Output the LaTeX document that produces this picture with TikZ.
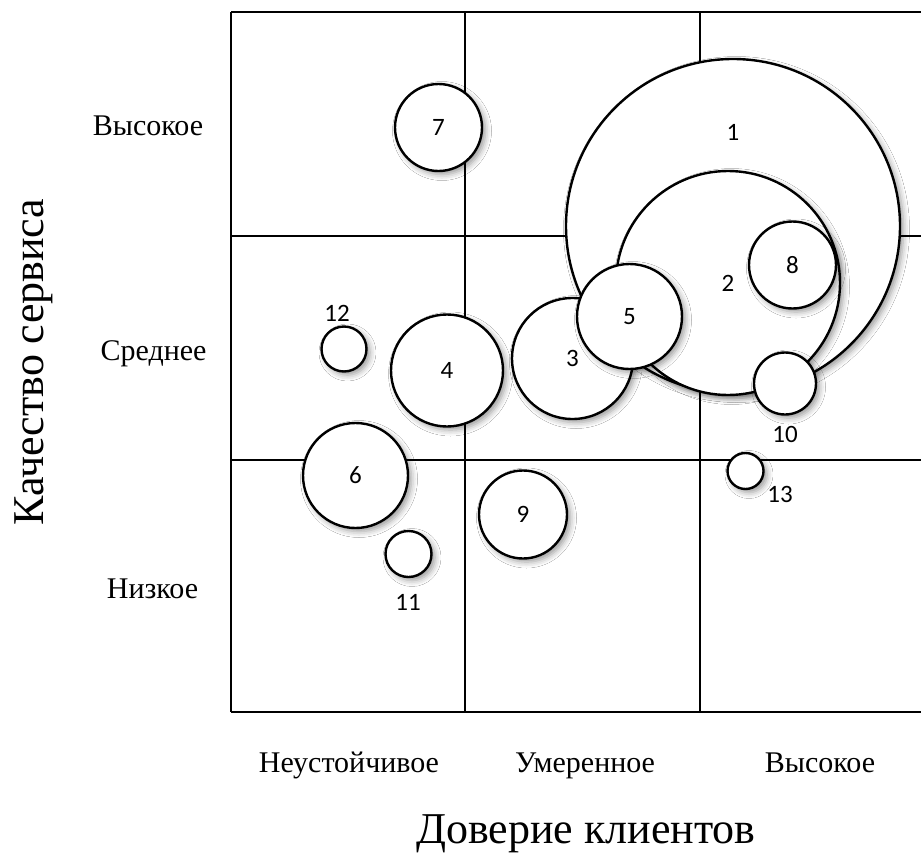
\documentclass[tikz,border=0pt]{standalone}
\usepackage{fontspec}
\setmainfont{Liberation Serif}
\newfontfamily\numfont{Carlito}
\usetikzlibrary{shadows.blur}
\begin{document}
\begin{tikzpicture}[x=1pt,y=-1pt,
  gridline/.style={line width=1.4pt, black},
  bub/.style={circle, draw=black, line width=2.4pt, fill=white, inner sep=0pt,
    font=\numfont\fontsize{25}{25}\selectfont,
    blur shadow={shadow xshift=3.5pt, shadow yshift=-3.5pt, shadow blur radius=6pt, shadow opacity=40}},
  num/.style={font=\numfont\fontsize{25}{25}\selectfont, inner sep=0pt},
  tick/.style={font=\fontsize{30}{30}\selectfont, inner sep=0pt, anchor=base},
  axtitle/.style={font=\fontsize{44}{44}\selectfont, inner sep=0pt, anchor=base}]
\useasboundingbox (0,0) rectangle (921,854);
\fill[white] (0,0) rectangle (921,854);
% grid
\draw[gridline] (231,12) -- (921,12);
\draw[gridline] (231,236) -- (921,236);
\draw[gridline] (231,460) -- (921,460);
\draw[gridline] (231,712) -- (921,712);
\draw[gridline] (231,12) -- (231,712);
\draw[gridline] (465,12) -- (465,712);
\draw[gridline] (700,12) -- (700,712);
% bubbles
\node[bub, minimum size=334pt] (c1) at (733,226) {};
\node[num] (l1) at (733,132) {1};
\node[bub, minimum size=224pt] (c2) at (728,283) {2};
\node[bub, minimum size=87pt] (c8) at (792.5,265) {8};
\node[bub, minimum size=121pt] (c3) at (572.5,358.5) {3};
\node[bub, minimum size=105pt] (c5) at (629.5,316.5) {5};
\node[bub, minimum size=62pt] (c10) at (785,383.5) {};
\node[num] (l10) at (785,434) {10};
\node[bub, minimum size=36pt] (c13) at (745.5,471) {};
\node[num] (l13) at (780,494) {13};
\node[bub, minimum size=88pt] (c9) at (523,514.5) {9};
\node[bub, minimum size=87pt] (c7) at (438.5,127.5) {7};
\node[bub, minimum size=45pt] (c12) at (344,349) {};
\node[num] (l12) at (337,313) {12};
\node[bub, minimum size=112pt] (c4) at (447,370.5) {4};
\node[bub, minimum size=105pt] (c6) at (355.5,475.5) {6};
\node[bub, minimum size=46pt] (c11) at (408.5,554) {};
\node[num] (l11) at (408,602) {11};
% axis labels
\node[tick] (yh) at (148,135) {Высокое};
\node[tick] (ym) at (153.5,360) {Среднее};
\node[tick] (yl) at (152.5,598) {Низкое};
\node[tick] (xl) at (349,772) {Неустойчивое};
\node[tick] (xm) at (585,772) {Умеренное};
\node[tick] (xh) at (820,772) {Высокое};
\node[axtitle] (xt) at (586,843) {Доверие клиентов};
\node[axtitle, rotate=90] (yt) at (43,362) {Качество сервиса};
\end{tikzpicture}
\end{document}
